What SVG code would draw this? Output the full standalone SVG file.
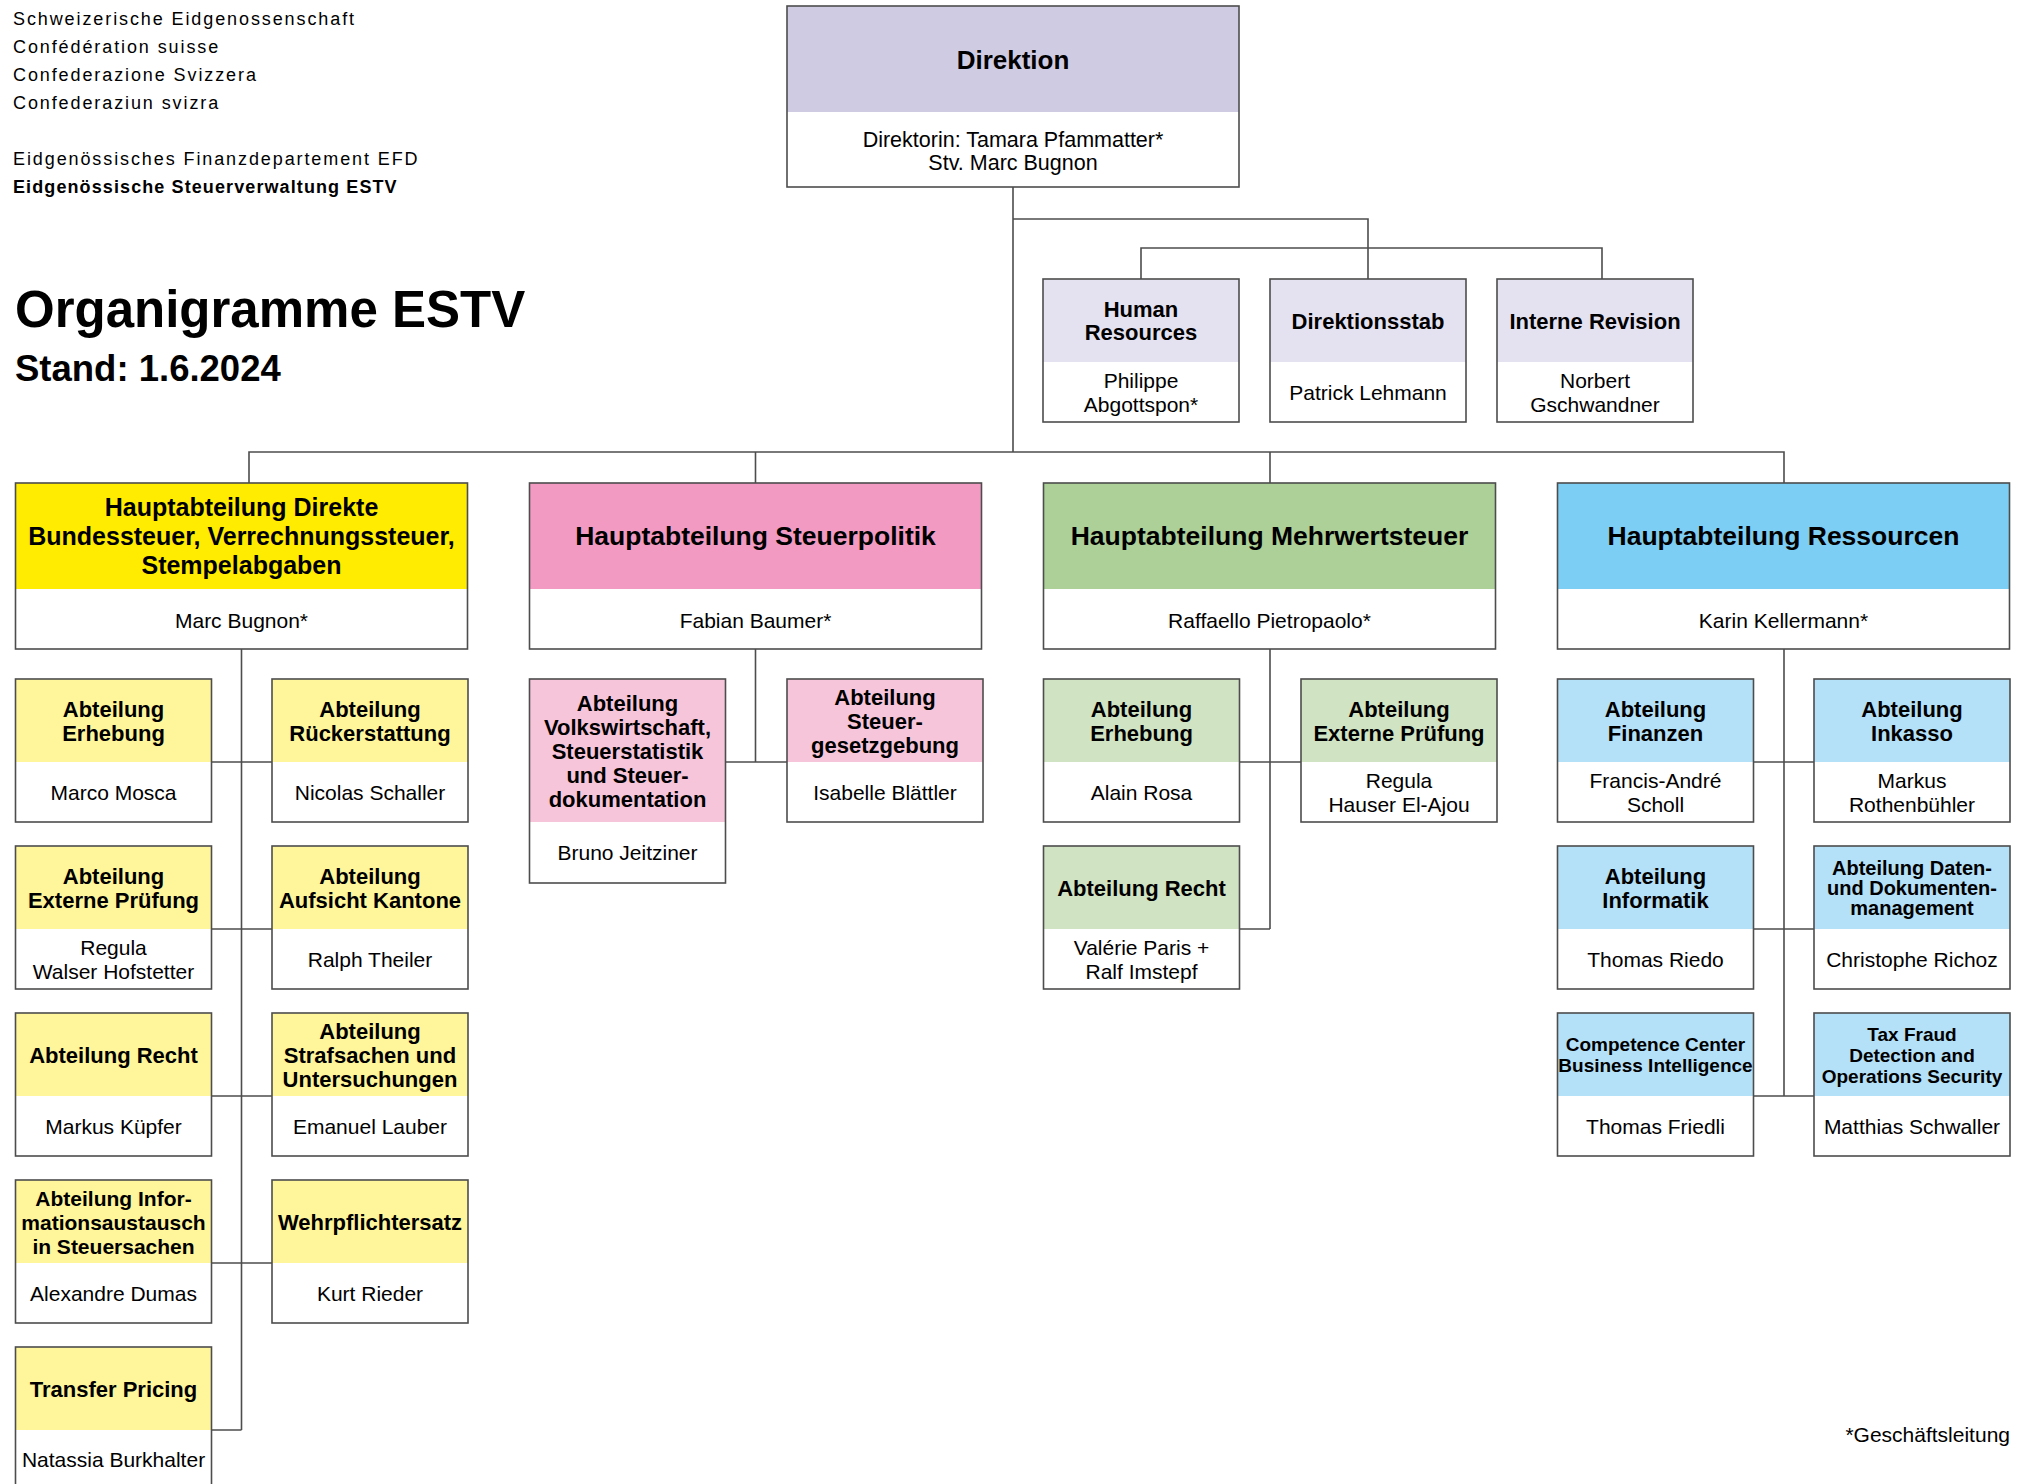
<svg xmlns="http://www.w3.org/2000/svg" width="2020" height="1484" viewBox="0 0 2020 1484">
<style>
text{font-family:"Liberation Sans",Arial,sans-serif;fill:#000}
.c{text-anchor:middle}
.hd{font-size:18px;letter-spacing:1.9px}
.hb{font-size:18px;letter-spacing:1.1px;font-weight:bold}
.tt{font-size:22px;font-weight:bold}
.ht{font-size:25px;font-weight:bold}
.ht2{font-size:26.5px;font-weight:bold}
.nm{font-size:21px}
.o{fill:none;stroke:#4d4d4d;stroke-width:1.6}
.ln{fill:none;stroke:#4d4d4d;stroke-width:1.6}
.dir{fill:#cfcbe3}.dirs{fill:#e4e2f0}
.y{fill:#ffec00}.ys{fill:#fff59a}
.p{fill:#f29ac2}.ps{fill:#f7c5da}
.g{fill:#acd097}.gs{fill:#d0e3c2}
.b{fill:#7dcef4}.bs{fill:#b4e1f8}
</style>
<rect x="0" y="0" width="2020" height="1484" fill="#fff"/>

<g id="header-text">
<text class="hd" x="13" y="25">Schweizerische Eidgenossenschaft</text>
<text class="hd" x="13" y="53">Confédération suisse</text>
<text class="hd" x="13" y="81">Confederazione Svizzera</text>
<text class="hd" x="13" y="109">Confederaziun svizra</text>
<text class="hd" x="13" y="165">Eidgenössisches Finanzdepartement EFD</text>
<text class="hb" x="13" y="193">Eidgenössische Steuerverwaltung ESTV</text>
<text x="15" y="327" style="font-size:51px;font-weight:bold">Organigramme ESTV</text>
<text x="15" y="381" style="font-size:36.5px;font-weight:bold">Stand: 1.6.2024</text>
<text class="nm" x="2010" y="1442" text-anchor="end">*Geschäftsleitung</text>
</g>

<g id="connectors">
<path class="ln" d="M1013 187V452M1013 219H1368V279M1141 279V248H1602V279"/>
<path class="ln" d="M249 483V452H1784V483M755.5 452V483M1270 452V483"/>
<path class="ln" d="M241.5 649V1430M211.5 762H272M211.5 929H272M211.5 1096H272M211.5 1263H272M211.5 1430H241.5"/>
<path class="ln" d="M755.5 649V762M725.5 762H787"/>
<path class="ln" d="M1270 649V929M1239.5 762H1301M1239.5 929H1270"/>
<path class="ln" d="M1784 649V1096M1753.5 762H1814M1753.5 929H1814M1753.5 1096H1814"/>
</g>

<g id="direktion">
<rect class="dir" x="787" y="6" width="452" height="106"/>
<rect class="o" x="787" y="6" width="452" height="181"/>
<text class="c" x="1013" y="69" style="font-size:26px;font-weight:bold">Direktion</text>
<text class="c nm" x="1013" y="146.5" style="font-size:21.5px">Direktorin: Tamara Pfammatter*</text>
<text class="c nm" x="1013" y="170" style="font-size:21.5px">Stv. Marc Bugnon</text>
</g>

<g id="human-resources">
<rect class="dirs" x="1043" y="279" width="196" height="83"/>
<rect class="o" x="1043" y="279" width="196" height="143"/>
<text class="c tt" x="1141" y="317">Human</text>
<text class="c tt" x="1141" y="340">Resources</text>
<text class="c nm" x="1141" y="387.5">Philippe</text>
<text class="c nm" x="1141" y="411.5">Abgottspon*</text>
</g>
<g id="direktionsstab">
<rect class="dirs" x="1270" y="279" width="196" height="83"/>
<rect class="o" x="1270" y="279" width="196" height="143"/>
<text class="c tt" x="1368" y="328.5">Direktionsstab</text>
<text class="c nm" x="1368" y="399.5">Patrick Lehmann</text>
</g>
<g id="interne-revision">
<rect class="dirs" x="1497" y="279" width="196" height="83"/>
<rect class="o" x="1497" y="279" width="196" height="143"/>
<text class="c tt" x="1595" y="328.5">Interne Revision</text>
<text class="c nm" x="1595" y="387.5">Norbert</text>
<text class="c nm" x="1595" y="411.5">Gschwandner</text>
</g>

<g id="ha-direkte">
<rect class="y" x="15.5" y="483" width="452" height="106"/>
<rect class="o" x="15.5" y="483" width="452" height="166"/>
<text class="c ht" x="241.5" y="516">Hauptabteilung Direkte</text>
<text class="c ht" x="241.5" y="545">Bundessteuer, Verrechnungssteuer,</text>
<text class="c ht" x="241.5" y="574">Stempelabgaben</text>
<text class="c nm" x="241.5" y="627.5">Marc Bugnon*</text>
</g>
<g id="ha-steuerpolitik">
<rect class="p" x="529.5" y="483" width="452" height="106"/>
<rect class="o" x="529.5" y="483" width="452" height="166"/>
<text class="c ht2" x="755.5" y="545">Hauptabteilung Steuerpolitik</text>
<text class="c nm" x="755.5" y="627.5">Fabian Baumer*</text>
</g>
<g id="ha-mwst">
<rect class="g" x="1043.5" y="483" width="452" height="106"/>
<rect class="o" x="1043.5" y="483" width="452" height="166"/>
<text class="c ht2" x="1269.5" y="545">Hauptabteilung Mehrwertsteuer</text>
<text class="c nm" x="1269.5" y="627.5">Raffaello Pietropaolo*</text>
</g>
<g id="ha-ressourcen">
<rect class="b" x="1557.5" y="483" width="452" height="106"/>
<rect class="o" x="1557.5" y="483" width="452" height="166"/>
<text class="c ht2" x="1783.5" y="545">Hauptabteilung Ressourcen</text>
<text class="c nm" x="1783.5" y="627.5">Karin Kellermann*</text>
</g>

<!-- yellow column -->
<g id="y-erhebung">
<rect class="ys" x="15.5" y="679" width="196" height="83"/><rect class="o" x="15.5" y="679" width="196" height="143"/>
<text class="c tt" x="113.5" y="716.5">Abteilung</text><text class="c tt" x="113.5" y="740.5">Erhebung</text>
<text class="c nm" x="113.5" y="799.5">Marco Mosca</text>
</g>
<g id="y-rueckerstattung">
<rect class="ys" x="272" y="679" width="196" height="83"/><rect class="o" x="272" y="679" width="196" height="143"/>
<text class="c tt" x="370" y="716.5">Abteilung</text><text class="c tt" x="370" y="740.5">Rückerstattung</text>
<text class="c nm" x="370" y="799.5">Nicolas Schaller</text>
</g>
<g id="y-externe-pruefung">
<rect class="ys" x="15.5" y="846" width="196" height="83"/><rect class="o" x="15.5" y="846" width="196" height="143"/>
<text class="c tt" x="113.5" y="883.5">Abteilung</text><text class="c tt" x="113.5" y="907.5">Externe Prüfung</text>
<text class="c nm" x="113.5" y="954.5">Regula</text><text class="c nm" x="113.5" y="978.5">Walser Hofstetter</text>
</g>
<g id="y-aufsicht">
<rect class="ys" x="272" y="846" width="196" height="83"/><rect class="o" x="272" y="846" width="196" height="143"/>
<text class="c tt" x="370" y="883.5">Abteilung</text><text class="c tt" x="370" y="907.5">Aufsicht Kantone</text>
<text class="c nm" x="370" y="966.5">Ralph Theiler</text>
</g>
<g id="y-recht">
<rect class="ys" x="15.5" y="1013" width="196" height="83"/><rect class="o" x="15.5" y="1013" width="196" height="143"/>
<text class="c tt" x="113.5" y="1062.5">Abteilung Recht</text>
<text class="c nm" x="113.5" y="1133.5">Markus Küpfer</text>
</g>
<g id="y-strafsachen">
<rect class="ys" x="272" y="1013" width="196" height="83"/><rect class="o" x="272" y="1013" width="196" height="143"/>
<text class="c tt" x="370" y="1038.5">Abteilung</text><text class="c tt" x="370" y="1062.5">Strafsachen und</text><text class="c tt" x="370" y="1086.5">Untersuchungen</text>
<text class="c nm" x="370" y="1133.5">Emanuel Lauber</text>
</g>
<g id="y-informationsaustausch">
<rect class="ys" x="15.5" y="1180" width="196" height="83"/><rect class="o" x="15.5" y="1180" width="196" height="143"/>
<text class="c tt" x="113.5" y="1205.5" style="font-size:21px">Abteilung Infor-</text><text class="c tt" x="113.5" y="1229.5" style="font-size:21px">mationsaustausch</text><text class="c tt" x="113.5" y="1253.5" style="font-size:21px">in Steuersachen</text>
<text class="c nm" x="113.5" y="1300.5">Alexandre Dumas</text>
</g>
<g id="y-wehrpflichtersatz">
<rect class="ys" x="272" y="1180" width="196" height="83"/><rect class="o" x="272" y="1180" width="196" height="143"/>
<text class="c tt" x="370" y="1229.5">Wehrpflichtersatz</text>
<text class="c nm" x="370" y="1300.5">Kurt Rieder</text>
</g>
<g id="y-transfer-pricing">
<rect class="ys" x="15.5" y="1347" width="196" height="83"/><rect class="o" x="15.5" y="1347" width="196" height="143"/>
<text class="c tt" x="113.5" y="1396.5">Transfer Pricing</text>
<text class="c nm" x="113.5" y="1467">Natassia Burkhalter</text>
</g>

<!-- pink column -->
<g id="p-volkswirtschaft">
<rect class="ps" x="529.5" y="679" width="196" height="143"/><rect class="o" x="529.5" y="679" width="196" height="204"/>
<text class="c tt" x="627.5" y="710.5">Abteilung</text><text class="c tt" x="627.5" y="734.5">Volkswirtschaft,</text><text class="c tt" x="627.5" y="758.5">Steuerstatistik</text><text class="c tt" x="627.5" y="782.5">und Steuer-</text><text class="c tt" x="627.5" y="806.5">dokumentation</text>
<text class="c nm" x="627.5" y="860">Bruno Jeitziner</text>
</g>
<g id="p-steuergesetzgebung">
<rect class="ps" x="787" y="679" width="196" height="83"/><rect class="o" x="787" y="679" width="196" height="143"/>
<text class="c tt" x="885" y="704.5">Abteilung</text><text class="c tt" x="885" y="728.5">Steuer-</text><text class="c tt" x="885" y="752.5">gesetzgebung</text>
<text class="c nm" x="885" y="799.5">Isabelle Blättler</text>
</g>

<!-- green column -->
<g id="g-erhebung">
<rect class="gs" x="1043.5" y="679" width="196" height="83"/><rect class="o" x="1043.5" y="679" width="196" height="143"/>
<text class="c tt" x="1141.5" y="716.5">Abteilung</text><text class="c tt" x="1141.5" y="740.5">Erhebung</text>
<text class="c nm" x="1141.5" y="799.5">Alain Rosa</text>
</g>
<g id="g-externe-pruefung">
<rect class="gs" x="1301" y="679" width="196" height="83"/><rect class="o" x="1301" y="679" width="196" height="143"/>
<text class="c tt" x="1399" y="716.5">Abteilung</text><text class="c tt" x="1399" y="740.5">Externe Prüfung</text>
<text class="c nm" x="1399" y="787.5">Regula</text><text class="c nm" x="1399" y="811.5">Hauser El-Ajou</text>
</g>
<g id="g-recht">
<rect class="gs" x="1043.5" y="846" width="196" height="83"/><rect class="o" x="1043.5" y="846" width="196" height="143"/>
<text class="c tt" x="1141.5" y="895.5">Abteilung Recht</text>
<text class="c nm" x="1141.5" y="954.5">Valérie Paris +</text><text class="c nm" x="1141.5" y="978.5">Ralf Imstepf</text>
</g>

<!-- blue column -->
<g id="b-finanzen">
<rect class="bs" x="1557.5" y="679" width="196" height="83"/><rect class="o" x="1557.5" y="679" width="196" height="143"/>
<text class="c tt" x="1655.5" y="716.5">Abteilung</text><text class="c tt" x="1655.5" y="740.5">Finanzen</text>
<text class="c nm" x="1655.5" y="787.5">Francis-André</text><text class="c nm" x="1655.5" y="811.5">Scholl</text>
</g>
<g id="b-inkasso">
<rect class="bs" x="1814" y="679" width="196" height="83"/><rect class="o" x="1814" y="679" width="196" height="143"/>
<text class="c tt" x="1912" y="716.5">Abteilung</text><text class="c tt" x="1912" y="740.5">Inkasso</text>
<text class="c nm" x="1912" y="787.5">Markus</text><text class="c nm" x="1912" y="811.5">Rothenbühler</text>
</g>
<g id="b-informatik">
<rect class="bs" x="1557.5" y="846" width="196" height="83"/><rect class="o" x="1557.5" y="846" width="196" height="143"/>
<text class="c tt" x="1655.5" y="883.5">Abteilung</text><text class="c tt" x="1655.5" y="907.5">Informatik</text>
<text class="c nm" x="1655.5" y="966.5">Thomas Riedo</text>
</g>
<g id="b-daten">
<rect class="bs" x="1814" y="846" width="196" height="83"/><rect class="o" x="1814" y="846" width="196" height="143"/>
<text class="c tt" x="1912" y="874.5" style="font-size:20px">Abteilung Daten-</text><text class="c tt" x="1912" y="894.5" style="font-size:20px">und Dokumenten-</text><text class="c tt" x="1912" y="914.5" style="font-size:20px">management</text>
<text class="c nm" x="1912" y="966.5">Christophe Richoz</text>
</g>
<g id="b-competence-center">
<rect class="bs" x="1557.5" y="1013" width="196" height="83"/><rect class="o" x="1557.5" y="1013" width="196" height="143"/>
<text class="c tt" x="1655.5" y="1051" style="font-size:19px">Competence Center</text><text class="c tt" x="1655.5" y="1072" style="font-size:19px">Business Intelligence</text>
<text class="c nm" x="1655.5" y="1133.5">Thomas Friedli</text>
</g>
<g id="b-tax-fraud">
<rect class="bs" x="1814" y="1013" width="196" height="83"/><rect class="o" x="1814" y="1013" width="196" height="143"/>
<text class="c tt" x="1912" y="1040.5" style="font-size:19px">Tax Fraud</text><text class="c tt" x="1912" y="1061.5" style="font-size:19px">Detection and</text><text class="c tt" x="1912" y="1082.5" style="font-size:19px">Operations Security</text>
<text class="c nm" x="1912" y="1133.5">Matthias Schwaller</text>
</g>
</svg>
